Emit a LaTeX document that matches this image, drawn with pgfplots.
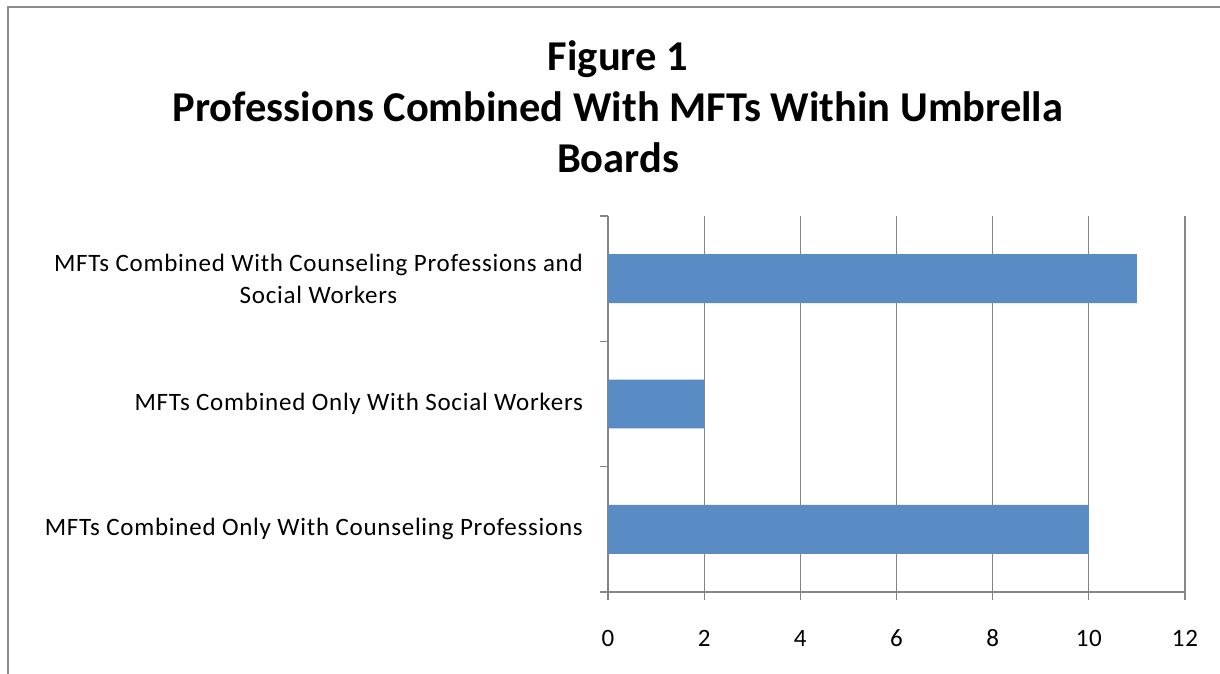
\documentclass[border=0pt]{standalone}
\usepackage{pgfplots}
\pgfplotsset{compat=1.18}
\usepackage{fontspec}
\setmainfont{Carlito}
\definecolor{barblue}{RGB}{89,139,197}
\definecolor{axgray}{RGB}{134,134,134}
\definecolor{framegray}{RGB}{140,140,140}
\begin{document}
\begin{tikzpicture}
\useasboundingbox (0pt,0pt) rectangle (610pt,337pt);
\draw[framegray, line width=1.2pt] (4pt,-2pt) -- (4pt,333.5pt) -- (614pt,333.5pt);
\node[font=\fontsize{21.25}{25.5}\selectfont\bfseries, align=center] at (309pt,283.5pt) {Figure 1\\Professions Combined With MFTs Within Umbrella\\Boards};
\begin{axis}[
  at={(304pt,41pt)}, anchor=south west, scale only axis,
  width=288.5pt, height=188pt,
  xmin=0, xmax=12, ymin=-0.5, ymax=2.5,
  xbar, bar width=0.39,
  axis x line=bottom, axis y line=left,
  axis line style={axgray,-, line width=0.6pt},
  xtick={0,2,...,12},
  ytick={-0.5,0.5,1.5,2.5}, yticklabels={},
  extra y ticks={0,1,2},
  extra y tick labels={MFTs Combined Only With Counseling Professions, MFTs Combined Only With Social Workers, {MFTs Combined With Counseling Professions and\\Social Workers}},
  extra y tick style={major tick length=0pt, grid=none},
  xmajorgrids, grid style={axgray, line width=0.6pt},
  tick style={axgray, line width=0.6pt}, tick align=outside, major tick length=4pt,
  /pgf/number format/assume math mode=true,
  ticklabel style={font=\fontsize{12.5}{16}\selectfont\addfontfeature{LetterSpace=3}},
  yticklabel style={align=center, xshift=-9pt},
  xticklabel style={yshift=-11pt, text height=8.5pt, text depth=0pt},
]
\addplot[fill=barblue, draw=none] coordinates {(10,0) (2,1) (11,2)};
\end{axis}
\end{tikzpicture}
\end{document}
